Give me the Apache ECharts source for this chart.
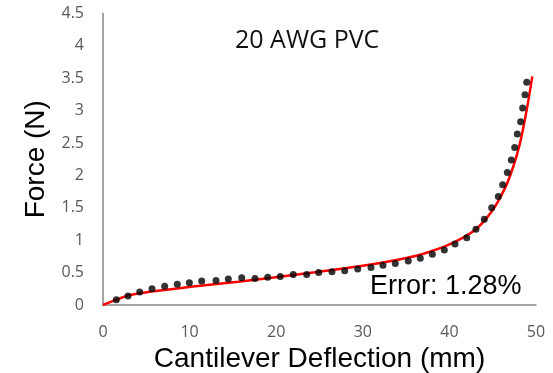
<!DOCTYPE html>
<html>
<head>
<meta charset="utf-8">
<script src="https://cdn.jsdelivr.net/npm/echarts@6/dist/echarts.min.js"></script>
<style>
  html, body { margin: 0; padding: 0; background: #fff; }
  #chart { width: 553px; height: 373px; }
</style>
</head>
<body>
<div id="chart"></div>
<script>
// measured points (black dots)
const deflection = [1.54, 2.89, 4.24, 5.66, 7.12, 8.58, 9.97, 11.40, 13.05, 14.47, 16.02, 17.55, 19.02, 20.47, 21.97, 23.52,
  24.91, 26.44, 27.91, 29.41, 30.95, 32.33, 33.75, 35.25, 36.64, 38.03, 39.41, 40.65, 42.0, 43.07, 44.03, 44.88,
  45.65, 46.15, 46.69, 47.15, 47.54, 47.84, 48.23, 48.46, 48.73, 48.93]
const force = [0.08, 0.14, 0.20, 0.25, 0.29, 0.32, 0.345, 0.37, 0.38, 0.40, 0.42, 0.41, 0.43, 0.44, 0.47, 0.47,
  0.50, 0.515, 0.53, 0.555, 0.58, 0.615, 0.64, 0.68, 0.72, 0.785, 0.85, 0.94, 1.04, 1.17, 1.325, 1.50,
  1.675, 1.855, 2.045, 2.24, 2.43, 2.64, 2.83, 3.04, 3.245, 3.44]

// model curve (red line)
const modelX = [0, 1.4, 3.0, 5.2, 7.12, 9.04, 11.76, 15.62, 19.48, 24.48, 27.98, 31.84, 34.91, 36.84, 39.87, 42.96,
  44.88, 46.42, 47.38, 48.15, 48.93, 49.57]
const modelF = [0, 0.075, 0.15, 0.20, 0.232, 0.263, 0.305, 0.36, 0.422, 0.505, 0.567, 0.645, 0.722, 0.784, 0.927, 1.159,
  1.442, 1.804, 2.138, 2.499, 3.014, 3.529]

const titleText = '20 AWG PVC'
const errorText = 'Error: 1.28%'

const chart = echarts.init(document.getElementById('chart'))

const axisGray = '#868686'
const labelGray = '#595959'

const option = {
  animation: false,
  // v6 would otherwise shrink the grid to keep the axis name inside the canvas
  grid: { left: 103, right: 17, top: 13.5, bottom: 68, outerBoundsMode: 'none' },
  xAxis: {
    type: 'value',
    min: 0, max: 50, interval: 10,
    name: 'Cantilever Deflection (mm)',
    nameLocation: 'middle',
    nameGap: 37,
    nameTextStyle: { fontFamily: 'Liberation Sans', fontSize: 28, color: '#000' },
    axisLine: { show: true, lineStyle: { color: axisGray, width: 1.5 } },
    axisTick: { show: false },
    splitLine: { show: false },
    axisLabel: { fontFamily: 'Open Sans', fontSize: 16, color: labelGray, margin: 19 }
  },
  yAxis: {
    type: 'value',
    min: 0, max: 4.5, interval: 0.5,
    name: 'Force (N)',
    nameLocation: 'middle',
    nameGap: 50,
    nameTextStyle: { fontFamily: 'Liberation Sans', fontSize: 28, color: '#000' },
    axisLine: { show: true, lineStyle: { color: axisGray, width: 1.5 } },
    axisTick: { show: false },
    splitLine: { show: false },
    axisLabel: { fontFamily: 'Open Sans', fontSize: 16, color: labelGray, margin: 19 }
  },
  graphic: [
    {
      type: 'text', left: 235, top: 28,
      style: { text: titleText, font: '25px "Open Sans"', fill: '#111' }
    },
    {
      type: 'text', left: 370, top: 273,
      style: { text: errorText, font: '27px "Liberation Sans"', fill: '#000' }
    }
  ],
  series: [
    {
      type: 'line',
      data: modelX.map((x, i) => [x, modelF[i]]),
      smooth: 0.3,
      showSymbol: false,
      lineStyle: { color: '#ff0000', width: 2.5 },
      z: 2
    },
    {
      type: 'scatter',
      data: deflection.map((x, i) => [x, force[i]]),
      symbolSize: 7,
      itemStyle: { color: '#000' },
      z: 3
    }
  ]
}

chart.setOption(option)
</script>
</body>
</html>
